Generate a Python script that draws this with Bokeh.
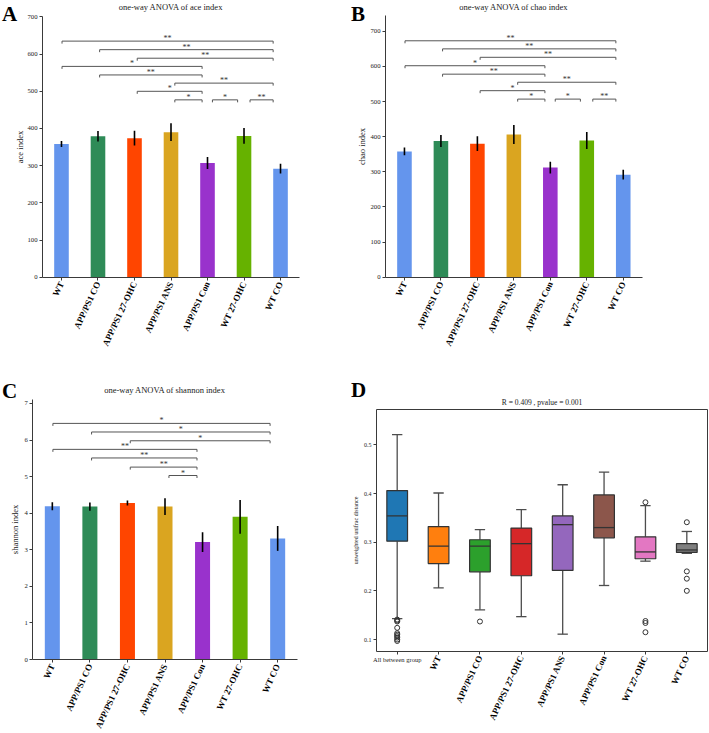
import math
from bokeh.plotting import figure
from bokeh.models import Range1d, FixedTicker, ColumnDataSource, LinearAxis
from bokeh.layouts import column, row
from bokeh.embed import file_html
from bokeh.resources import INLINE
from bokeh.core.properties import value

FONT = "Liberation Serif"

# ---------------- data ----------------
groups = ["WT", "APP/PS1 CO", "APP/PS1 27-OHC", "APP/PS1 ANS", "APP/PS1 Con", "WT 27-OHC", "WT CO"]
bar_colors = ["#6495ED", "#2E8B57", "#FF4500", "#DAA520", "#9932CC", "#66B200", "#6495ED"]

ace_mean = [358, 379, 374, 390, 307, 380, 292]
ace_err = [8, 14, 20, 24, 16, 21, 13]
chao_mean = [358, 388, 380, 406, 312, 389, 292]
chao_err = [11, 17, 21, 27, 17, 24, 14]
shannon_mean = [4.19, 4.18, 4.28, 4.18, 3.21, 3.90, 3.31]
shannon_err = [0.11, 0.11, 0.07, 0.23, 0.27, 0.46, 0.34]

# significance brackets (group i, group j, height, label)
ace_sig_i = [0, 1, 2, 0, 1, 3, 2, 3, 4, 5]
ace_sig_j = [6, 6, 6, 4, 4, 6, 4, 4, 5, 6]
ace_sig_y = [635, 612, 589, 567, 544, 522, 500, 477, 477, 477]
ace_sig_lab = ["**", "**", "**", "*", "**", "**", "*", "*", "*", "**"]

chao_sig_i = [0, 1, 2, 0, 1, 3, 2, 3, 4, 5]
chao_sig_j = [6, 6, 6, 4, 4, 6, 4, 4, 5, 6]
chao_sig_y = [673, 650, 626, 602, 578, 555, 531, 507, 507, 507]
chao_sig_lab = ["**", "**", "**", "*", "**", "**", "*", "*", "*", "**"]

shannon_sig_i = [0, 1, 2, 0, 1, 2, 3]
shannon_sig_j = [6, 6, 6, 4, 4, 4, 4]
shannon_sig_y = [6.455, 6.22, 5.98, 5.745, 5.51, 5.26, 5.03]
shannon_sig_lab = ["*", "*", "*", "**", "**", "**", "*"]

box_groups = ["All between group"] + groups
box_colors = ["#1f77b4", "#ff7f0e", "#2ca02c", "#d62728", "#9467bd", "#8c564b", "#e377c2", "#7f7f7f"]
box_lo = [0.143, 0.206, 0.161, 0.147, 0.111, 0.211, 0.261, 0.277]
box_q1 = [0.302, 0.256, 0.239, 0.231, 0.242, 0.309, 0.266, 0.279]
box_med = [0.354, 0.292, 0.292, 0.297, 0.336, 0.330, 0.280, 0.284]
box_q3 = [0.406, 0.332, 0.305, 0.329, 0.354, 0.397, 0.311, 0.297]
box_hi = [0.521, 0.401, 0.326, 0.367, 0.418, 0.444, 0.375, 0.322]
outlier_group = [0] * 10 + [2] + [6] * 4 + [7] * 4
outlier_val = [0.141, 0.139, 0.137, 0.124, 0.113, 0.110, 0.107, 0.104, 0.100, 0.097,
               0.137, 0.382, 0.138, 0.134, 0.115, 0.341, 0.240, 0.225, 0.200]

AX = "#3a3a3a"


def make_fig(W, H, L, T, FW, FH, x0, x1, y0, y1):
    """Figure whose frame fills the canvas; the 'plot box' (x0..x1, y0..y1) sits at pixel L,T."""
    kx = (x1 - x0) / FW
    ky = (y1 - y0) / FH
    xr = Range1d(x0 - L * kx, x1 + (W - L - FW) * kx)
    yr = Range1d(y0 - (H - T - FH) * ky, y1 + T * ky)
    p = figure(width=W, height=H, x_range=xr, y_range=yr, output_backend="svg",
               toolbar_location=None, title=None, min_border_left=0, min_border_right=0,
               min_border_top=0, min_border_bottom=0)
    p.outline_line_color = None
    p.xgrid.grid_line_color = None
    p.ygrid.grid_line_color = None

    def px(sx):
        return x0 + (sx - L) * kx

    def py(sy):
        return y1 - (sy - T) * ky

    for ax in p.axis:
        ax.axis_line_color = AX
        ax.major_tick_line_color = AX
        ax.minor_tick_line_color = None
        ax.major_tick_out = 3
        ax.major_tick_in = 0
        ax.major_label_text_font = FONT
        ax.axis_label_text_font = FONT
        ax.axis_label_text_font_style = "normal"
        ax.major_label_text_color = "#222222"
        ax.axis_label_text_color = "#222222"
    p.yaxis[0].fixed_location = x0
    p.yaxis[0].bounds = (y0, y1)
    p.xaxis[0].fixed_location = y0
    p.xaxis[0].bounds = (x0, x1)
    return p, px, py


def style_xlabels(p, ticks, labels):
    p.xaxis.ticker = FixedTicker(ticks=ticks)
    p.xaxis.major_label_overrides = {t: lab for t, lab in zip(ticks, labels)}
    p.xaxis.major_label_orientation = math.radians(65)
    p.xaxis.major_label_text_font_style = "bold"
    p.xaxis.major_label_text_font_size = "9px"
    p.xaxis.major_label_text_color = "black"
    p.xaxis.major_label_standoff = 2


def add_text(p, x, y, txt, size_px, align="left", bold=False):
    # lift by ~0.35 em so the glyphs sit on the intended baseline
    p.text(x=[x], y=[y], text=[txt], text_font=value(FONT), text_font_size=f"{size_px}px",
           text_align=align, text_baseline="alphabetic", y_offset=-0.35 * size_px,
           text_font_style="bold" if bold else "normal",
           text_color="black" if bold else "#1a1a1a")


def bar_panel(means, errs, sig_i, sig_j, sig_y, sig_lab, ymax, yticks, ylabel, title,
              letter, W, H, L, T, FW, FH, letter_xy, title_y, ylab_standoff):
    p, px, py = make_fig(W, H, L, T, FW, FH, -0.52, 6.52, 0, ymax)
    xs = list(range(len(groups)))
    p.vbar(x=xs, top=means, width=0.4, fill_color=bar_colors, line_color=None)
    p.segment(x0=xs, y0=[m - e for m, e in zip(means, errs)], x1=xs,
              y1=[m + e for m, e in zip(means, errs)], line_color="black", line_width=1.6)
    tick_h = 2.5 * ymax / FH
    bx, by, tx, ty = [], [], [], []
    for i, j, y in zip(sig_i, sig_j, sig_y):
        xl = 0.015 + 1.03 * i
        xr = 0.973 * j - 0.04
        bx.append([xl, xl, xr, xr])
        by.append([y - tick_h, y, y, y - tick_h])
        tx.append((xl + xr) / 2)
        ty.append(y)
    p.multi_line(xs=bx, ys=by, line_color="#555555", line_width=1)
    p.text(x=tx, y=ty, text=sig_lab, text_font=value(FONT), text_font_size="8px",
           text_align="center", text_baseline="alphabetic", y_offset=-2.5,
           text_color="#333333")
    style_xlabels(p, xs, groups)
    p.yaxis.ticker = FixedTicker(ticks=yticks)
    p.yaxis.major_label_text_font_size = "6.7px"
    p.yaxis.major_label_standoff = 2
    p.yaxis.axis_label = ylabel
    p.yaxis.axis_label_text_font_size = "8.5px"
    p.yaxis.axis_label_standoff = ylab_standoff
    add_text(p, 3, py(title_y), title, 8.5, align="center")
    add_text(p, px(letter_xy[0]), py(letter_xy[1]), letter, 21, bold=True)
    return p


pA = bar_panel(ace_mean, ace_err, ace_sig_i, ace_sig_j, ace_sig_y, ace_sig_lab, 702,
               list(range(0, 701, 100)), "ace index", "one-way ANOVA of ace index", "A",
               350, 370, 42, 15.7, 257, 261, (1.5, 20.5), 9.5, -1)
pB = bar_panel(chao_mean, chao_err, chao_sig_i, chao_sig_j, chao_sig_y, chao_sig_lab, 745,
               list(range(0, 701, 100)), "chao index", "one-way ANOVA of chao index", "B",
               359, 370, 35, 15, 256.7, 261.7, (0.5, 20.5), 9.5, 0)
pC = bar_panel(shannon_mean, shannon_err, shannon_sig_i, shannon_sig_j, shannon_sig_y,
               shannon_sig_lab, 7.1, list(range(0, 8)), "shannon index",
               "one-way ANOVA of shannon index", "C", 350, 363, 32.3, 29.3, 264.4, 259.7,
               (1.5, 28), 22, 1)

# ---------------- panel D: box plot ----------------
ylo, yhi = 0.076, 0.572
pD, pxD, pyD = make_fig(359, 363, 26, 39.3, 331, 241.4, -0.5, 7.5, ylo, yhi)
bxs = list(range(len(box_groups)))
src = ColumnDataSource(dict(x=bxs, lo=box_lo, q1=box_q1, med=box_med, q3=box_q3, hi=box_hi,
                            color=box_colors,
                            xl=[x - 0.25 for x in bxs], xr=[x + 0.25 for x in bxs],
                            cl=[x - 0.125 for x in bxs], cr=[x + 0.125 for x in bxs]))
WC = "#4d4d4d"
pD.segment(x0="x", y0="q3", x1="x", y1="hi", source=src, line_color=WC, line_width=1.3)
pD.segment(x0="x", y0="lo", x1="x", y1="q1", source=src, line_color=WC, line_width=1.3)
pD.segment(x0="cl", y0="hi", x1="cr", y1="hi", source=src, line_color=WC, line_width=1.3)
pD.segment(x0="cl", y0="lo", x1="cr", y1="lo", source=src, line_color=WC, line_width=1.3)
pD.vbar(x="x", bottom="q1", top="q3", width=0.5, source=src, fill_color="color",
        line_color="#333333", line_width=1.2)
pD.segment(x0="xl", y0="med", x1="xr", y1="med", source=src, line_color="#333333", line_width=1.3)
pD.scatter(x=outlier_group, y=outlier_val, marker="circle", size=5, fill_color=None,
           line_color="#333333", line_width=1)
style_xlabels(pD, bxs, [""] + groups)
pD.yaxis.ticker = FixedTicker(ticks=[0.1, 0.2, 0.3, 0.4, 0.5])
pD.yaxis.major_label_text_font_size = "6px"
pD.yaxis.major_label_standoff = 2
pD.yaxis.axis_label = "unweighted unifrac distance"
pD.yaxis.axis_label_text_font_size = "6px"
pD.yaxis.axis_label_standoff = 2
# closing box (right and top spines)
for loc, fl, bnd in (("right", 7.5, (ylo, yhi)), ("above", yhi, (-0.5, 7.5))):
    ax = LinearAxis(fixed_location=fl, bounds=bnd, ticker=FixedTicker(ticks=[]),
                    axis_line_color=AX, major_tick_line_color=None,
                    minor_tick_line_color=None, major_label_text_font_size="0px")
    pD.add_layout(ax, loc)
pD.text(x=[0], y=[pyD(285)], text=[box_groups[0]], text_font=value(FONT),
        text_font_size="6.5px", text_align="center", text_baseline="top",
        text_color="#222222")
add_text(pD, 3.5, pyD(34.5), "R = 0.409 , pvalue = 0.001", 7.5, align="center")
add_text(pD, pxD(0.5), pyD(27.3), "D", 21, bold=True)

layout = column(row(pA, pB), row(pC, pD))
open("out.html", "w").write(file_html(layout, INLINE))
